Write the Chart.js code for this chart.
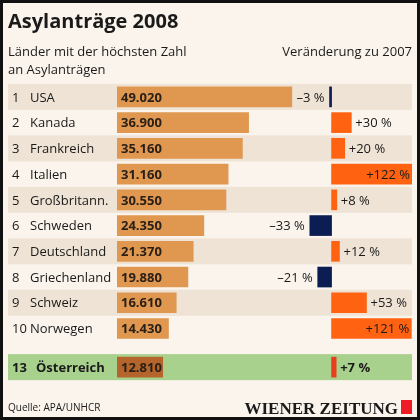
<!DOCTYPE html>
<html><head><meta charset="utf-8">
<script src="https://cdn.jsdelivr.net/npm/chart.js@4"></script>
<style>
html,body{margin:0;padding:0;background:#fff}
#wrap{position:relative;width:420px;height:420px}
canvas{position:absolute;left:0;top:0}
</style></head><body>
<div id="wrap"><canvas id="c1" width="420" height="420"></canvas><canvas id="c2" width="420" height="420"></canvas></div>
<script>
const ranks = ["1","2","3","4","5","6","7","8","9","10","13"];
const countries = ["USA","Kanada","Frankreich","Italien","Großbritann.","Schweden","Deutschland","Griechenland","Schweiz","Norwegen","Österreich"];
const rowPos = [0,1,2,3,4,5,6,7,8,9,10.5];
const applications = [49020,36900,35160,31160,30550,24350,21370,19880,16610,14430,12810];
const changePct = [-3,30,20,122,8,-33,12,-21,53,121,7];
const valueLabels = ["49.020","36.900","35.160","31.160","30.550","24.350","21.370","19.880","16.610","14.430","12.810"];
const changeLabels = ["–3 %","+30 %","+20 %","+122 %","+8 %","–33 %","+12 %","–21 %","+53 %","+121 %","+7 %"];

const F = "'Open Sans','Noto Sans',sans-serif";
const yAxis = {type:'linear',reverse:true,min:-0.5,max:11,display:false,offset:false};

const bgPlugin = {
  id:'bg',
  beforeDraw(ch){
    const c=ch.ctx, y=ch.scales.y;
    c.save();
    c.fillStyle='#faf4ec'; c.fillRect(0,0,420,420);
    c.strokeStyle='#111'; c.lineWidth=3; c.strokeRect(1.5,1.5,417,417);
    rowPos.forEach((p,i)=>{
      const yc=y.getPixelForValue(p);
      if(i===10){c.fillStyle='#a9d18e'; c.fillRect(8,yc-13,404,26);}
      else if(i%2===0){c.fillStyle='#efe3d5'; c.fillRect(8,yc-13,404,26);}
    });
    c.restore();
  },
  afterDraw(ch){
    const c=ch.ctx, y=ch.scales.y, x=ch.scales.x;
    c.save();
    c.fillStyle='#1a1a1a'; c.textBaseline='alphabetic';
    c.font="bold 20px "+F; c.fillText("Asylanträge 2008",8,28);
    c.font="13px "+F;
    c.fillText("Länder mit der höchsten Zahl",8,56);
    c.fillText("an Asylanträgen",8,74);
    c.textAlign='right'; c.fillText("Veränderung zu 2007",412,56);
    c.textAlign='left'; c.textBaseline='middle';
    rowPos.forEach((p,i)=>{
      const yc=y.getPixelForValue(p)+1;
      c.font=(i===10?"bold ":"")+"13px "+F;
      c.fillStyle='#1a1a1a';
      c.fillText(ranks[i],12,yc);
      c.fillText(countries[i],i===10?36:30,yc);
      c.font="bold 13px "+F;
      c.fillStyle='#2a2018';
      c.fillText(valueLabels[i],x.getPixelForValue(0)+4,yc);
    });
    c.textBaseline='alphabetic';
    c.fillStyle='#1a1a1a'; c.font="10px "+F; c.fillText("Quelle: APA/UNHCR",8,411);
    c.font="bold 17px 'Liberation Serif','DejaVu Serif',serif";
    c.textAlign='right'; c.fillText("WIENER ZEITUNG",398,414);
    c.fillStyle='#ee1c25'; c.fillRect(401,400,11,14);
    c.restore();
  }
};

new Chart(document.getElementById('c1'),{
  type:'bar',
  data:{datasets:[{data:applications.map((v,i)=>({x:v,y:rowPos[i]})),
    backgroundColor:applications.map((v,i)=>i===10?'#b5652c':'#e0974f'),
    barThickness:20}]},
  options:{indexAxis:'y',responsive:false,animation:false,
    layout:{padding:{left:117,right:89,top:84,bottom:40}},
    plugins:{legend:{display:false},tooltip:{enabled:false}},
    scales:{x:{type:'linear',min:0,max:60000,display:false},y:yAxis}},
  plugins:[bgPlugin]
});

const labPlugin={
  id:'lab',
  afterDatasetsDraw(ch){
    const c=ch.ctx,x=ch.scales.x,y=ch.scales.y;
    c.save(); c.textBaseline='middle';
    changePct.forEach((v,i)=>{
      const yc=y.getPixelForValue(rowPos[i])+1, e=x.getPixelForValue(v), z=x.getPixelForValue(0);
      c.font=(i===10?"bold ":"")+"13px "+F;
      c.fillStyle='#1a1a1a';
      if(v<0){c.textAlign='right'; c.fillText(changeLabels[i],Math.min(e,z-2)-5,yc);}
      else if(v>100){c.textAlign='right'; c.fillText(changeLabels[i],e-2,yc);}
      else {c.textAlign='left'; c.fillText(changeLabels[i],e+4,yc);}
    });
    c.restore();
  }
};

new Chart(document.getElementById('c2'),{
  type:'bar',
  data:{datasets:[{data:changePct.map((v,i)=>({x:v,y:rowPos[i]})),
    backgroundColor:changePct.map((v,i)=>i===10?'#e8401a':(v<0?'#0b1d52':'#ff6312')),
    barThickness:20,minBarLength:2}]},
  options:{indexAxis:'y',responsive:false,animation:false,
    layout:{padding:{left:292,right:8,top:84,bottom:40}},
    plugins:{legend:{display:false},tooltip:{enabled:false}},
    scales:{x:{type:'linear',min:-60,max:122,display:false},y:yAxis}},
  plugins:[labPlugin]
});
</script></body></html>
